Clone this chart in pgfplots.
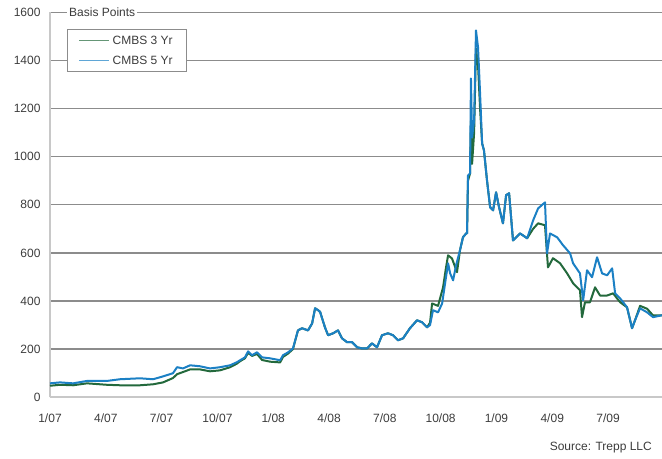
\documentclass[border=0pt]{standalone}
\usepackage{fontspec}
\setmainfont{Liberation Sans}
\usepackage{pgfplots}
\usepackage{pgfplotstable}
\pgfplotsset{compat=1.18}

\definecolor{cmbsgreen}{RGB}{35,105,60}
\definecolor{cmbsblue}{RGB}{27,128,196}
\definecolor{gridgray}{RGB}{140,140,140}
\definecolor{axisgray}{RGB}{200,200,200}
\definecolor{textgray}{RGB}{60,60,60}

\newcommand{\chartfont}{\fontsize{12pt}{14pt}\selectfont}

% months since 1/07, spread in basis points
\pgfplotstableread{
m v
0.00 48
0.54 52
1.24 50
1.99 58
3.06 52
3.76 50
4.84 50
5.54 54
6.08 62
6.61 80
6.83 96
7.15 105
7.53 116
8.06 116
8.60 108
9.14 112
9.68 125
10.05 140
10.22 150
10.48 162
10.65 185
10.86 172
11.13 180
11.40 155
11.83 148
12.37 145
12.53 168
12.80 182
13.06 200
13.33 278
13.55 287
13.87 278
14.09 307
14.25 370
14.41 362
14.52 355
14.78 291
14.95 258
15.22 266
15.48 278
15.70 245
15.97 229
16.24 229
16.51 208
16.77 203
17.04 203
17.31 224
17.58 208
17.85 258
18.17 266
18.44 258
18.71 237
18.98 245
19.35 287
19.73 320
20.00 312
20.27 291
20.43 310
20.54 390
20.86 380
21.13 457
21.29 540
21.40 590
21.61 577
21.88 520
22.04 611
22.20 665
22.37 681
22.42 681
22.47 900
22.58 930
22.63 1150
22.69 970
22.80 1100
22.90 1450
23.01 1380
23.12 1200
23.23 1055
23.33 1026
23.49 903
23.66 790
23.82 777
23.98 852
24.14 790
24.35 723
24.52 840
24.68 848
24.89 652
25.27 681
25.65 661
25.97 700
26.24 723
26.61 715
26.77 540
27.04 578
27.42 557
27.80 515
28.12 474
28.49 445
28.60 333
28.76 395
29.03 395
29.30 457
29.57 423
29.95 423
30.27 432
30.65 395
31.02 374
31.29 287
31.45 320
31.72 380
32.10 368
32.42 340
32.90 341
}\threeyr

\pgfplotstableread{
m v
0.00 58
0.54 62
1.24 58
1.99 68
3.06 68
3.76 75
4.84 79
5.54 75
6.08 87
6.61 100
6.83 125
7.15 120
7.53 133
8.06 129
8.60 120
9.14 125
9.68 133
10.05 146
10.22 154
10.48 166
10.65 191
10.86 175
11.13 187
11.40 166
11.83 162
12.37 154
12.53 175
12.80 187
13.06 203
13.33 278
13.55 287
13.87 278
14.09 307
14.25 370
14.41 362
14.52 355
14.78 291
14.95 258
15.22 266
15.48 278
15.70 245
15.97 229
16.24 229
16.51 208
16.77 203
17.04 203
17.31 224
17.58 208
17.85 258
18.17 266
18.44 258
18.71 237
18.98 245
19.35 287
19.73 320
20.00 312
20.27 291
20.43 300
20.59 362
20.86 353
21.08 390
21.24 474
21.40 557
21.51 515
21.67 486
21.83 549
22.04 611
22.20 665
22.37 681
22.42 681
22.47 922
22.58 930
22.63 1325
22.69 1080
22.80 1151
22.90 1525
23.01 1455
23.12 1263
23.23 1055
23.33 1026
23.49 903
23.66 790
23.82 777
23.98 852
24.14 790
24.35 723
24.52 840
24.68 848
24.89 652
25.27 681
25.65 661
25.97 735
26.24 785
26.61 810
26.72 598
26.88 681
27.26 665
27.58 632
27.96 598
28.12 557
28.49 515
28.66 403
28.87 528
29.14 499
29.41 582
29.68 515
29.95 507
30.22 536
30.38 432
30.65 411
31.02 374
31.29 287
31.45 320
31.72 370
32.10 353
32.42 333
32.90 341
}\fiveyr

\pgfplotsset{
  shortline/.style={legend image code/.code={\draw[##1] (0pt,0pt) -- (30pt,0pt);}},
}

\begin{document}
\begin{tikzpicture}
\path[use as bounding box] (-50pt,-61pt) rectangle (612pt,397.3pt);
\begin{axis}[
  at={(0,0)}, anchor=south west,
  scale only axis, width=612pt, height=385pt,
  xmin=0, xmax=32.9, ymin=0, ymax=1600,
  clip=false,
  axis x line*=bottom, axis y line*=left,
  axis line style={-, draw=axisgray, line width=2pt},
  xtick={0,3,...,30},
  xticklabels={1/07,4/07,7/07,10/07,1/08,4/08,7/08,10/08,1/09,4/09,7/09},
  ytick={0,200,...,1600},
  major tick length=0pt,
  ymajorgrids,
  major grid style={draw=gridgray, line width=1.4pt},
  tick label style={font=\chartfont, text=textgray},
  xticklabel style={yshift=-13pt},
  yticklabel style={xshift=-6pt},
  /pgf/number format/1000 sep={},
  /pgf/number format/assume math mode=true,
  legend style={at={(0.0278,0.956)}, anchor=north west,
    draw=gridgray, line width=1.2pt, fill=white,
    font=\chartfont, text=textgray,
    inner xsep=11pt, inner ysep=3pt, row sep=4pt,
    nodes={inner sep=3pt}},
  legend cell align=left,
]
\addplot[cmbsgreen, line width=2pt, line join=round, forget plot] table[x=m, y=v] {\threeyr};
\addplot[cmbsblue, line width=2pt, line join=round, forget plot] table[x=m, y=v] {\fiveyr};
\addlegendimage{shortline, draw=cmbsgreen!70!white, line width=1pt}
\addlegendentry{CMBS 3 Yr}
\addlegendimage{shortline, draw=cmbsblue!70!white, line width=1pt}
\addlegendentry{CMBS 5 Yr}
\end{axis}
\node[anchor=west, fill=white, inner xsep=2pt, inner ysep=1pt, font=\chartfont, text=textgray] at (17pt,385pt) {Basis Points};
\node[anchor=base east, inner sep=0pt, font=\chartfont, text=textgray] at (602pt,-53pt) {Source: Trepp LLC};
\end{tikzpicture}
\end{document}
